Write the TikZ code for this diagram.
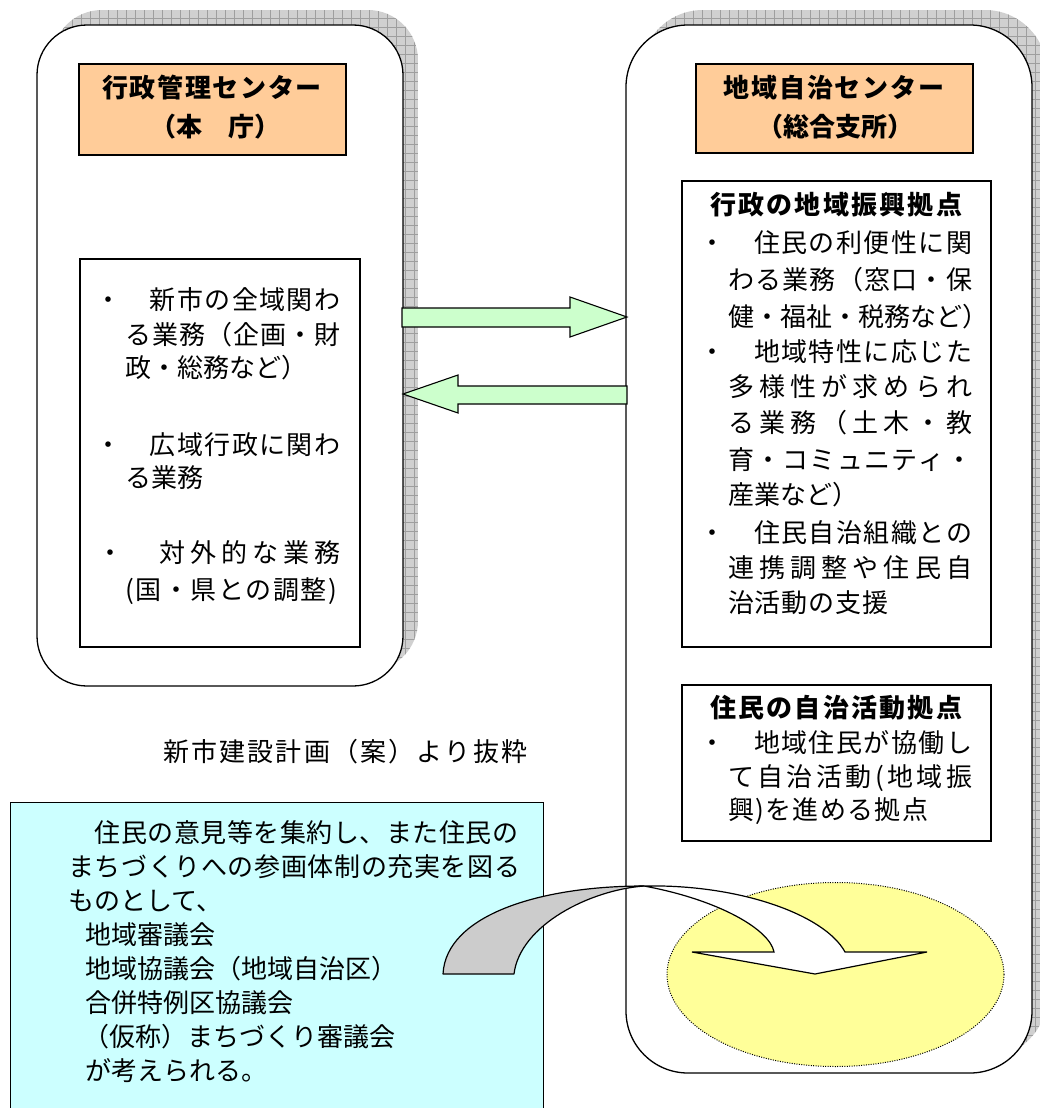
\documentclass[tikz,border=0pt]{standalone}
\usepackage{fontspec}
\setmainfont{Noto Sans CJK JP}
\usetikzlibrary{shapes.geometric}
\definecolor{orangefill}{RGB}{255,204,153}
\definecolor{cyanfill}{RGB}{204,255,255}
\definecolor{greenfill}{RGB}{204,255,204}
\definecolor{yellowfill}{RGB}{255,255,153}
\definecolor{arrgray}{RGB}{204,204,204}
\definecolor{shadowfill}{RGB}{208,208,208}
\definecolor{shadowgrid}{RGB}{158,158,158}
\newcommand\jbody{\fontsize{26pt}{34pt}\selectfont}
\newcommand\jbold{\fontsize{26pt}{34pt}\selectfont\bfseries}
\def\spreadloop#1#2\relax{#1\ifx\relax#2\relax\else\hfil\spreadloop#2\relax\fi}
\newcommand\spreadbox[2]{\hbox to #1pt{\spreadloop#2\relax}}
\tikzset{
  ln/.style={anchor=west, inner sep=0pt, text height=22.9pt, text depth=3.1pt, font=\jbody},
  tt/.style={anchor=center, inner sep=0pt, text height=22.9pt, text depth=3.1pt, font=\jbold},
  bigbox/.style={draw=black, fill=white, line width=1.3pt, inner sep=0pt},
  framebox/.style={draw=black, line width=1.3pt, inner sep=0pt},
  blockarrow/.style={draw=black, fill=greenfill, line width=1.1pt, line join=miter},
}
\begin{document}
\begin{tikzpicture}[x=1pt,y=-1pt]
\useasboundingbox (0,0) rectangle (1040,1108);
% shadows
\begin{scope}
  \path[clip, rounded corners=50pt] (52,10) rectangle (418,671);
  \fill[shadowfill] (52,10) rectangle (418,671);
  \draw[shadowgrid, line width=0.5pt] (52,10) grid[step=9pt] (418,671);
\end{scope}
\begin{scope}
  \path[clip, rounded corners=62pt] (641,10) rectangle (1047,1058);
  \fill[shadowfill] (641,10) rectangle (1047,1058);
  \draw[shadowgrid, line width=0.5pt] (641,10) grid[step=9pt] (1047,1058);
\end{scope}
% main boxes
\node[bigbox, rounded corners=50pt, minimum width=366pt, minimum height=661pt] (L) at (220,355.5) {};
\node[bigbox, rounded corners=62pt, minimum width=406pt, minimum height=1048pt] (R) at (829,549) {};
% orange title boxes
\node[framebox, fill=orangefill, minimum width=267pt, minimum height=91pt] (LT) at (212.5,109.5) {};
\node[framebox, fill=orangefill, minimum width=277pt, minimum height=89pt] (RT) at (834.5,108.5) {};
\node[tt] (t1) at (212,88) {\spreadbox{220}{行政管理センター}};
\node[tt] (t2) at (214,127) {\spreadbox{128}{（本　庁）}};
\node[tt] (t3) at (834,88) {\spreadbox{221}{地域自治センター}};
\node[tt] (t4) at (832,127) {\spreadbox{150}{（総合支所）}};
% inner boxes
\node[framebox, fill=white, minimum width=280pt, minimum height=388pt] (LB) at (220,453) {};
\node[framebox, fill=white, minimum width=309pt, minimum height=466pt] (RB1) at (836.5,414) {};
\node[framebox, fill=white, minimum width=309pt, minimum height=156pt] (RB2) at (836.5,763) {};
% left box text
\node[ln] (a1) at (95,300) {\spreadbox{245}{・　新市の全域関わ}};
\node[ln] (a2) at (125,335) {\spreadbox{215}{る業務（企画・財}};
\node[ln] (a3) at (125,368) {\spreadbox{180}{政・総務など）}};
\node[ln] (a4) at (95,445) {\spreadbox{245}{・　広域行政に関わ}};
\node[ln] (a5) at (125,478) {る業務};
\node[ln] (a6) at (97,553) {\spreadbox{243}{・　対外的な業務}};
\node[ln] (a7) at (125,590) {\spreadbox{212}{(国・県との調整)}};
% right box 1 text
\node[tt] (r0) at (836,205) {\spreadbox{252}{行政の地域振興拠点}};
\node[ln] (r1) at (699,243) {\spreadbox{273}{・　住民の利便性に関}};
\node[ln] (r2) at (728,280) {\spreadbox{244}{わる業務（窓口・保}};
\node[ln] (r3) at (728,317) {\spreadbox{249}{健・福祉・税務など）}};
\node[ln] (r4) at (699,352) {\spreadbox{273}{・　地域特性に応じた}};
\node[ln] (r5) at (728,387) {\spreadbox{244}{多様性が求められ}};
\node[ln] (r6) at (728,423) {\spreadbox{244}{る業務（土木・教}};
\node[ln] (r7) at (728,460) {\spreadbox{244}{育・コミュニティ・}};
\node[ln] (r8) at (728,495) {産業など）};
\node[ln] (r9) at (699,533) {\spreadbox{273}{・　住民自治組織との}};
\node[ln] (r10) at (728,568) {\spreadbox{244}{連携調整や住民自}};
\node[ln] (r11) at (728,603) {\spreadbox{160}{治活動の支援}};
% right box 2 text
\node[tt] (s0) at (836,708) {\spreadbox{252}{住民の自治活動拠点}};
\node[ln] (s1) at (699,743) {\spreadbox{273}{・　地域住民が協働し}};
\node[ln] (s2) at (728,777) {\spreadbox{244}{て自治活動(地域振}};
\node[ln] (s3) at (728,810) {\spreadbox{200}{興)を進める拠点}};
% ellipse
\node[draw=black, fill=yellowfill, ellipse, line width=1pt, dash pattern=on 1pt off 1.4pt, minimum width=337pt, minimum height=184pt, inner sep=0pt] (E) at (835.5,974.5) {};
% green block arrows
\draw[blockarrow] (402,308) -- (570,308) -- (570,297) -- (627,317) -- (570,337) -- (570,327) -- (402,327) -- cycle;
\draw[blockarrow] (627,386) -- (458,386) -- (458,375) -- (403,394) -- (458,413) -- (458,404) -- (627,404) -- cycle;
% caption
\node[ln] (src) at (163,752) {\spreadbox{364}{新市建設計画（案）より抜粋}};
% cyan box
\node[framebox, fill=cyanfill, minimum width=533pt, minimum height=318pt, anchor=north west] (C) at (10,802) {};
\node[ln] (c1) at (68,833) {\spreadbox{450}{　住民の意見等を集約し、また住民の}};
\node[ln] (c2) at (68,867) {\spreadbox{452}{まちづくりへの参画体制の充実を図る}};
\node[ln] (c3) at (68,901) {ものとして、};
\node[ln] (c4) at (85,935) {地域審議会};
\node[ln] (c5) at (85,969) {地域協議会（地域自治区）};
\node[ln] (c6) at (85,1003) {合併特例区協議会};
\node[ln] (c7) at (83,1037) {（仮称）まちづくり審議会};
\node[ln] (c8) at (85,1071) {が考えられる。};
% curved arrow
\draw[fill=arrgray, line width=1.2pt, line join=round] (443,974) .. controls (446,915) and (540,886) .. (644,886) .. controls (590,890) and (520,925) .. (514,974) -- cycle;
\draw[fill=white, line width=1.2pt, line join=miter] (644,886) .. controls (740,884) and (825,915) .. (845,952) -- (927,952) -- (815,974) -- (692,952) -- (774,952) .. controls (770,930) and (720,900) .. (644,886) -- cycle;
\end{tikzpicture}
\end{document}
